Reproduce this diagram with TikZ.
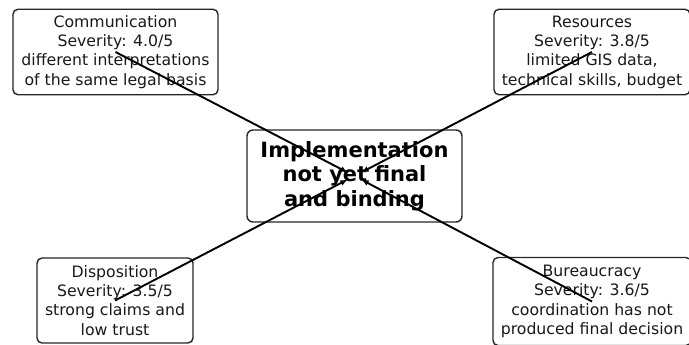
\documentclass[tikz,border=0pt]{standalone}
\usepackage{fontspec}
\setmainfont{DejaVu Sans}
\usetikzlibrary{arrows.meta}
\begin{document}
\begin{tikzpicture}[x=1pt,y=1pt,
  outerbox/.style={draw=black!85, line width=1.4pt, rounded corners=5pt, fill=white,
    align=center, inner sep=0pt, text=black!90,
    font=\fontsize{15.7}{19.3}\selectfont},
  centerbox/.style={draw=black!85, line width=1.4pt, rounded corners=6pt, fill=white,
    align=center, inner sep=0pt, text=black,
    font=\fontsize{21}{24.5}\selectfont\bfseries},
  link/.style={draw=black, line width=1.9pt, shorten >=8pt,
    -{Latex[length=7pt,width=6pt]}}]
\useasboundingbox (0,0) rectangle (689,345);
\clip (0,0) rectangle (689,345);
\node[outerbox, minimum width=205pt, minimum height=85.5pt] (comm) at (115.5,293)
  {Communication\\Severity: 4.0/5\\different interpretations\\of the same legal basis};
\node[outerbox, minimum width=196pt, minimum height=85.5pt] (res) at (592,293)
  {Resources\\Severity: 3.8/5\\limited GIS data,\\technical skills, budget};
\node[outerbox, minimum width=156pt, minimum height=85pt] (disp) at (115,44.5)
  {Disposition\\Severity: 3.5/5\\strong claims and\\low trust};
\node[outerbox, minimum width=198pt, minimum height=88pt] (bur) at (592,43.5)
  {Bureaucracy\\Severity: 3.6/5\\coordination has not\\produced final decision};
\node[centerbox, minimum width=215pt, minimum height=92pt] (impl) at (354.5,169)
  {Implementation\\not yet final\\and binding};
\draw[link] (comm.center) -- (impl.center);
\draw[link] (res.center) -- (impl.center);
\draw[link] (disp.center) -- (impl.center);
\draw[link] (bur.center) -- (impl.center);
\end{tikzpicture}
\end{document}
